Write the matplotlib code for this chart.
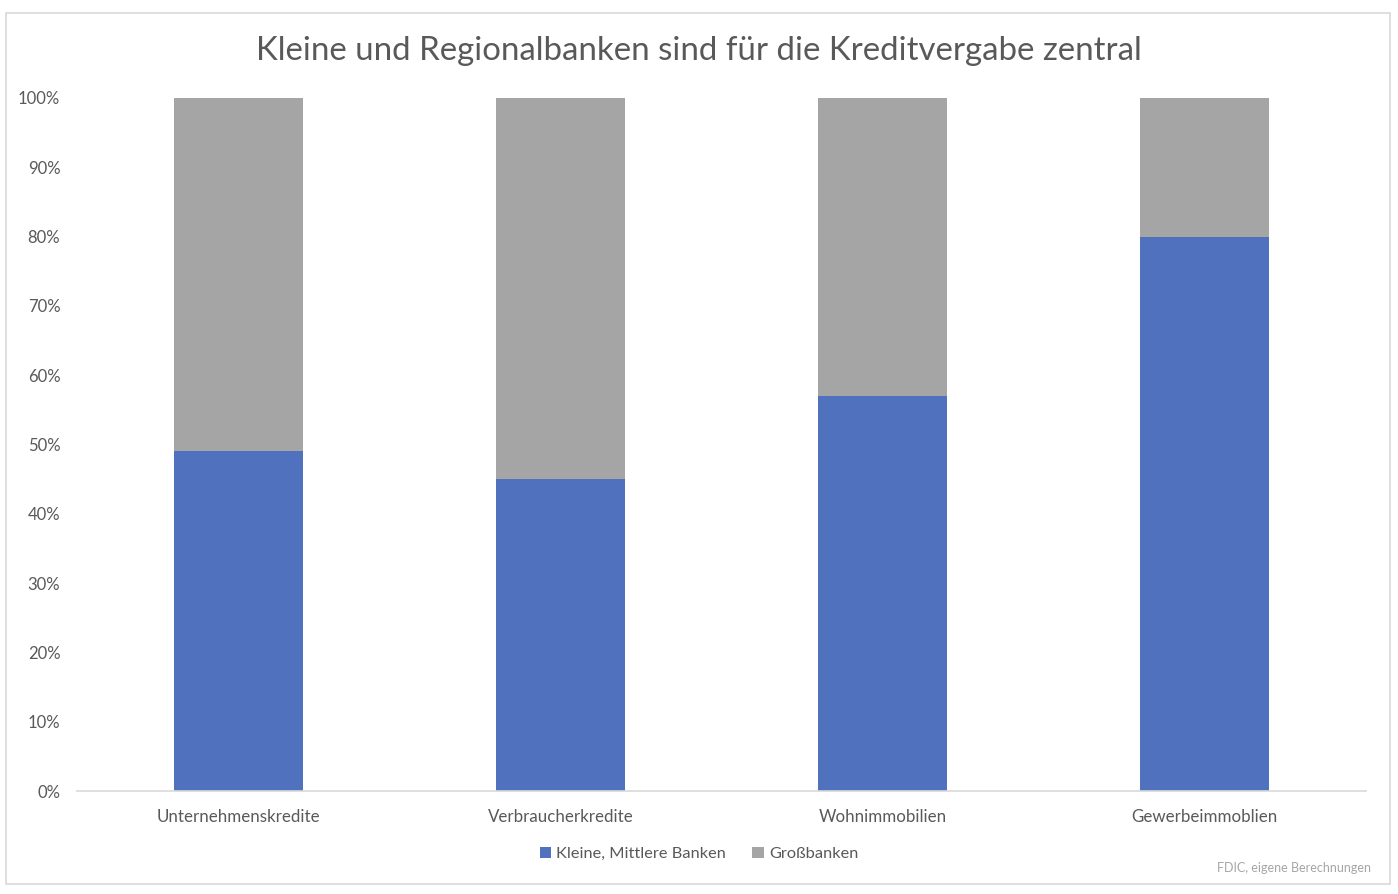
import matplotlib
matplotlib.use("Agg")
import matplotlib.pyplot as plt
from matplotlib.patches import Rectangle
from matplotlib.ticker import FuncFormatter, MultipleLocator

categories = ["Unternehmenskredite", "Verbraucherkredite", "Wohnimmobilien", "Gewerbeimmoblien"]
kleine = [49, 45, 57, 80]
gross = [51, 55, 43, 20]
title = "Kleine und Regionalbanken sind für die Kreditvergabe zentral"
source = "FDIC, eigene Berechnungen"

plt.rcParams['font.family'] = ['Lato', 'DejaVu Sans']
TXT = '#595959'
BLUE = '#4F71BE'
GRAY = '#A5A5A5'

fig = plt.figure(figsize=(13.98, 8.94), dpi=100)
fig.patches.append(Rectangle((6/1398, 1-884/894), (1390-6)/1398, (884-13)/894,
                             transform=fig.transFigure, fill=False, edgecolor='#D9D9D9', lw=1.2))
ax = fig.add_axes([77/1398, 1-791/894, (1366-77)/1398, (791-98)/894])
x = list(range(len(categories)))
ax.bar(x, kleine, width=0.4, color=BLUE, label="Kleine, Mittlere Banken")
ax.bar(x, gross, width=0.4, bottom=kleine, color=GRAY, label="Großbanken")
ax.set_xlim(-0.5, len(categories) - 0.5)
ax.set_ylim(0, 100)
ax.yaxis.set_major_locator(MultipleLocator(10))
ax.yaxis.set_major_formatter(FuncFormatter(lambda v, p: f"{int(v)}%"))
ax.set_xticks(x)
ax.set_xticklabels(categories)
for s in ['top', 'right', 'left']:
    ax.spines[s].set_visible(False)
ax.spines['bottom'].set_color('#D9D9D9')
ax.spines['bottom'].set_linewidth(1.2)
ax.tick_params(axis='y', length=0, colors=TXT, labelsize=12, pad=12)
ax.tick_params(axis='x', length=0, colors=TXT, labelsize=12.2, pad=13)
fig.text(0.5, 1-51/894, title, ha='center', va='center', fontsize=23.8, color=TXT)
leg = fig.legend(loc='center', bbox_to_anchor=(0.5, 1-854/894), ncol=2, frameon=False,
                 fontsize=11.8, handlelength=0.7, handleheight=0.7, handletextpad=0.3,
                 columnspacing=1.6)
for t in leg.get_texts():
    t.set_color(TXT)
fig.text(1371/1398, 1-868/894, source, ha='right', va='center', fontsize=9, color='#A6A6A6')
fig.savefig("out.png", dpi=100)
